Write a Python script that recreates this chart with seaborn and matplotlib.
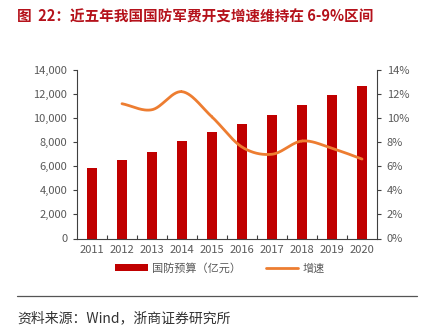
import numpy as np
import pandas as pd
import matplotlib
matplotlib.use("Agg")
import matplotlib.pyplot as plt
import seaborn as sns
from matplotlib.ticker import FuncFormatter, FixedLocator
from matplotlib.lines import Line2D
from matplotlib.patches import Patch

years = ["2011", "2012", "2013", "2014", "2015", "2016", "2017", "2018", "2019", "2020"]
budget = [5850, 6503, 7202, 8082, 8869, 9544, 10226, 11070, 11899, 12680]
growth_years = ["2012", "2013", "2014", "2015", "2016", "2017", "2018", "2019", "2020"]
growth = [11.2, 10.7, 12.2, 10.1, 7.6, 7.0, 8.1, 7.5, 6.6]

title_text = "图  22：近五年我国国防军费开支增速维持在 6-9%区间"
source_text = "资料来源：Wind，浙商证券研究所"
bar_label = "国防预算（亿元）"
line_label = "增速"

BAR_C = "#C00000"
LINE_C = "#ED7D31"
GREY = "#595959"

sns.set_theme(style="white")
plt.rcParams['font.family'] = ['Noto Sans CJK SC', 'DejaVu Sans']

fig = plt.figure(figsize=(4.22, 3.29), dpi=100)
ax = fig.add_axes([77/422, 1-238.5/329, 300/422, 168.5/329])

df = pd.DataFrame({"year": years, "budget": budget})
sns.barplot(data=df, x="year", y="budget", color=BAR_C, width=0.34, ax=ax,
            saturation=1, edgecolor="none")
ax.set_xlim(-0.5, len(years) - 0.5)
ax.set_ylim(0, 14000)
ax.set_yticks(np.arange(0, 14001, 2000))
ax.yaxis.set_major_formatter(FuncFormatter(lambda v, p: f"{int(v):,}"))
ax.set_xlabel("")
ax.set_ylabel("")

# smooth growth line (Catmull-Rom through data points, like Excel smoothed line)
ax2 = ax.twinx()
xg = np.array([years.index(y) for y in growth_years], dtype=float)
yg = np.array(growth, dtype=float)
px = np.concatenate([[2*xg[0]-xg[1]], xg, [2*xg[-1]-xg[-2]]])
py = np.concatenate([[2*yg[0]-yg[1]], yg, [2*yg[-1]-yg[-2]]])
sx, sy = [], []
t = np.linspace(0, 1, 30)
for i in range(1, len(px)-2):
    p0, p1, p2, p3 = py[i-1], py[i], py[i+1], py[i+2]
    q0, q1, q2, q3 = px[i-1], px[i], px[i+1], px[i+2]
    f = lambda a0, a1, a2, a3: 0.5*((2*a1) + (-a0+a2)*t + (2*a0-5*a1+4*a2-a3)*t**2 + (-a0+3*a1-3*a2+a3)*t**3)
    sx.extend(f(q0, q1, q2, q3)); sy.extend(f(p0, p1, p2, p3))
line_df = pd.DataFrame({"x": sx, "y": sy})
sns.lineplot(data=line_df, x="x", y="y", color=LINE_C, lw=2, ax=ax2, sort=False,
             estimator=None)
ax2.set_ylim(0, 14)
ax2.set_yticks(np.arange(0, 15, 2))
ax2.yaxis.set_major_formatter(FuncFormatter(lambda v, p: f"{int(v)}%"))
ax2.set_xlabel("")
ax2.set_ylabel("")

for a in (ax, ax2):
    a.spines['top'].set_visible(False)
    for s in ('left', 'right', 'bottom'):
        a.spines[s].set_color("#404040")
        a.spines[s].set_linewidth(0.8)
    a.grid(False)
ax.spines['right'].set_visible(False)
ax2.spines['left'].set_visible(False)
ax2.spines['bottom'].set_visible(False)

ax.tick_params(axis='y', which='major', direction='out', length=3, width=0.8,
               color="#404040", labelcolor=GREY, labelsize=8, left=True, pad=4)
ax2.tick_params(axis='y', which='major', direction='out', length=3, width=0.8,
                color="#404040", labelcolor=GREY, labelsize=8, right=True, pad=4)
ax.tick_params(axis='x', which='major', length=0, labelcolor=GREY, labelsize=8, pad=5)
ax.xaxis.set_minor_locator(FixedLocator(np.arange(0.5, len(years) - 1, 1)))
ax.tick_params(axis='x', which='minor', direction='in', length=3, width=0.8,
               color="#404040", bottom=True)

handles = [Patch(facecolor=BAR_C, edgecolor="none", label=bar_label),
           Line2D([0], [0], color=LINE_C, lw=2, label=line_label)]
fig.legend(handles=handles, loc="center", bbox_to_anchor=(220/422, 1-268/329), ncol=2,
           frameon=False, fontsize=8, labelcolor=GREY, handlelength=2.9,
           handleheight=0.55, columnspacing=2.2, handletextpad=0.4)

fig.text(17/422, 1-17/329, title_text, color="#B5121B", fontsize=10.5,
         fontweight="bold", va="center", ha="left")
fig.add_artist(Line2D([17/422, 417/422], [1-296/329, 1-296/329], color="#555555", lw=0.9))
fig.text(17/422, 1-318/329, source_text, color="#333333", fontsize=10,
         va="center", ha="left")

fig.savefig("out.png", dpi=100)
